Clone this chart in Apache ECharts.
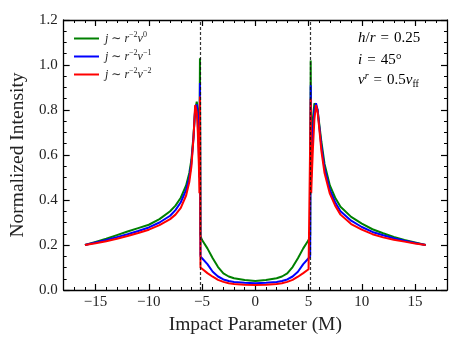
<!DOCTYPE html>
<html lang="en">
<head>
    <meta charset="UTF-8">
    <title>Normalized Intensity vs Impact Parameter</title>
    <script src="https://cdn.jsdelivr.net/npm/echarts@6/dist/echarts.min.js"></script>
    <style>
        html, body { margin: 0; padding: 0; background: #ffffff; }
        #chart { width: 463px; height: 347px; }
    </style>
</head>
<body>
    <div id="chart"></div>
    <script>
        // impact parameter samples (M)
        var impact = [
            -16, -15, -14, -13, -12, -11, -10, -9, -8, -7.5, -7, -6.5, -6.2, -6, -5.8, -5.65,
            -5.5, -5.4, -5.3, -5.25, -5.2, -5.15, -5, -4.5, -4, -3.5, -3, -2.5, -2, -1, 0,
            1, 2, 2.5, 3, 3.5, 4, 4.5, 5, 5.15, 5.2, 5.25, 5.3, 5.4, 5.55, 5.7,
            5.85, 6, 6.2, 6.5, 7, 7.5, 8, 9, 10, 11, 12, 13, 14, 15, 16
        ];

        // j ~ r^-2 nu^0
        var greenVals = [
            0.200, 0.214, 0.228, 0.244, 0.260, 0.275, 0.290, 0.315, 0.350, 0.375, 0.410, 0.465, 0.520, 0.580, 0.690, 0.800,
            0.837, 0.800, 0.650, 0.550, 1.030, 0.240, 0.222, 0.185, 0.141, 0.102, 0.074, 0.060, 0.052, 0.044, 0.040,
            0.044, 0.052, 0.060, 0.074, 0.102, 0.141, 0.185, 0.222, 0.240, 1.020, 0.550, 0.650, 0.760, 0.830, 0.835,
            0.800, 0.740, 0.660, 0.560, 0.465, 0.410, 0.370, 0.325, 0.295, 0.270, 0.252, 0.236, 0.222, 0.211, 0.200
        ];
        // j ~ r^-2 nu^-1
        var blueVals = [
            0.200, 0.211, 0.222, 0.235, 0.248, 0.262, 0.278, 0.300, 0.330, 0.355, 0.390, 0.445, 0.500, 0.565, 0.680, 0.810,
            0.825, 0.770, 0.600, 0.500, 0.920, 0.150, 0.141, 0.115, 0.081, 0.060, 0.047, 0.040, 0.036, 0.032, 0.030,
            0.032, 0.036, 0.040, 0.047, 0.060, 0.081, 0.115, 0.141, 0.150, 0.910, 0.500, 0.580, 0.700, 0.800, 0.830,
            0.800, 0.730, 0.640, 0.540, 0.445, 0.390, 0.350, 0.308, 0.280, 0.258, 0.243, 0.230, 0.219, 0.209, 0.200
        ];
        // j ~ r^-2 nu^-2
        var redVals = [
            0.200, 0.208, 0.217, 0.228, 0.240, 0.253, 0.268, 0.288, 0.315, 0.335, 0.365, 0.420, 0.480, 0.550, 0.680, 0.822,
            0.790, 0.700, 0.550, 0.430, 0.860, 0.100, 0.092, 0.075, 0.059, 0.045, 0.036, 0.030, 0.027, 0.023, 0.022,
            0.023, 0.027, 0.030, 0.036, 0.045, 0.059, 0.075, 0.092, 0.100, 0.850, 0.430, 0.500, 0.620, 0.760, 0.822,
            0.790, 0.720, 0.620, 0.520, 0.428, 0.375, 0.335, 0.293, 0.268, 0.248, 0.234, 0.223, 0.215, 0.207, 0.200
        ];

        var seriesNames = ['nu0', 'nu1', 'nu2'];
        var legendLabels = {
            nu0: '{i|j} ∼ {i|r}{s|−2}{i|ν}{s|0}',
            nu1: '{i|j} ∼ {i|r}{s|−2}{i|ν}{s|−1}',
            nu2: '{i|j} ∼ {i|r}{s|−2}{i|ν}{s|−2}'
        };
        var seriesColors = ['#008000', '#0000ff', '#ff0000'];

        var xMajor = [-15, -10, -5, 0, 5, 10, 15];
        var photonRing = [-5.196, 5.196];

        var serif = '"Liberation Serif", "DejaVu Serif", serif';

        function pairs(vals) {
            return impact.map(function (x, i) { return [x, vals[i]]; });
        }

        var chart = echarts.init(document.getElementById('chart'), null, { renderer: 'canvas' });

        function xAxisDef(pos, major) {
            return {
                type: 'value',
                position: pos,
                min: -18,
                max: 18,
                interval: 1,
                name: (pos === 'bottom' && major) ? 'Impact Parameter (M)' : '',
                nameLocation: 'middle',
                nameGap: 21,
                nameTextStyle: { fontFamily: serif, fontSize: 19.5, color: '#222' },
                axisLine: { show: major, onZero: false, lineStyle: { color: '#000', width: 1.3 } },
                axisTick: major
                    ? { show: true, inside: true, length: 6, customValues: xMajor, lineStyle: { color: '#000', width: 1.2 } }
                    : { show: true, inside: true, length: 3, lineStyle: { color: '#000', width: 1 } },
                axisLabel: (pos === 'bottom' && major)
                    ? {
                        show: true, margin: 5, customValues: xMajor, fontFamily: serif, fontSize: 15, color: '#222',
                        formatter: function (v) { return v < 0 ? '−' + Math.abs(v) : String(v); }
                    }
                    : { show: false },
                splitLine: { show: false }
            };
        }

        function yAxisDef(pos) {
            return {
                type: 'value',
                position: pos,
                min: 0,
                max: 1.2,
                interval: 0.2,
                name: pos === 'left' ? 'Normalized Intensity' : '',
                nameLocation: 'middle',
                nameGap: 29,
                nameTextStyle: { fontFamily: serif, fontSize: 19.5, color: '#222' },
                axisLine: { show: true, onZero: false, lineStyle: { color: '#000', width: 1.3 } },
                axisTick: { show: true, inside: true, length: 6, lineStyle: { color: '#000', width: 1.2 } },
                minorTick: { show: true, splitNumber: 4, length: 3, lineStyle: { color: '#000', width: 1 } },
                axisLabel: pos === 'left'
                    ? { show: true, margin: 6, fontFamily: serif, fontSize: 15, color: '#222', formatter: function (v) { return v.toFixed(1); } }
                    : { show: false },
                splitLine: { show: false },
                minorSplitLine: { show: false }
            };
        }

        var series = [greenVals, blueVals, redVals].map(function (vals, i) {
            var s = {
                name: seriesNames[i],
                type: 'line',
                xAxisIndex: 0,
                yAxisIndex: 0,
                data: pairs(vals),
                showSymbol: false,
                symbol: 'none',
                color: seriesColors[i],
                lineStyle: { color: seriesColors[i], width: 2 },
                z: 2 + i
            };
            if (i === 2) {
                s.markLine = {
                    silent: true,
                    symbol: 'none',
                    label: { show: false },
                    lineStyle: { color: '#111', type: [3, 2], width: 1.2, opacity: 0.85 },
                    data: photonRing.map(function (x) { return { xAxis: x }; })
                };
            }
            return s;
        });

        var rich = {
            i: { fontFamily: serif, fontStyle: 'italic', fontSize: 15, color: '#222', lineHeight: 18 },
            n: { fontFamily: serif, fontSize: 15, color: '#222', lineHeight: 18 },
            s: { fontFamily: serif, fontStyle: 'italic', fontSize: 10, color: '#222', lineHeight: 10, verticalAlign: 'top' },
            b: { fontFamily: serif, fontSize: 10, color: '#222', lineHeight: 10, verticalAlign: 'bottom' }
        };
        var eq = '\u2004=\u2004';

        var option = {
            animation: false,
            backgroundColor: '#ffffff',
            grid: { left: 60, right: 16, top: 20, bottom: 57, containLabel: false },
            xAxis: [xAxisDef('bottom', true), xAxisDef('bottom', false), xAxisDef('top', true), xAxisDef('top', false)],
            yAxis: [yAxisDef('left'), yAxisDef('right')],
            legend: {
                show: true,
                orient: 'vertical',
                left: 69,
                top: 26,
                icon: 'rect',
                itemWidth: 25,
                itemHeight: 2,
                itemGap: 3,
                data: seriesNames,
                formatter: function (name) { return legendLabels[name]; },
                textStyle: {
                    fontFamily: serif,
                    fontSize: 12,
                    color: '#222',
                    lineHeight: 15,
                    padding: [0, 0, 0, 1],
                    rich: {
                        i: { fontFamily: serif, fontStyle: 'italic', fontSize: 12, color: '#222', lineHeight: 15 },
                        s: { fontFamily: serif, fontSize: 8, color: '#222', lineHeight: 9, verticalAlign: 'top' }
                    }
                }
            },
            graphic: [
                {
                    type: 'text', left: 358, top: 31,
                    style: { text: '{i|h}{n|/}{i|r}{n|' + eq + '0.25}', rich: rich }
                },
                {
                    type: 'text', left: 358, top: 53,
                    style: { text: '{i|i}{n|' + eq + '45°}', rich: rich }
                },
                {
                    type: 'text', left: 358, top: 71,
                    style: { text: '{i|v}{s|r}{n|' + eq + '0.5}{i|v}{b|ff}', rich: rich }
                }
            ],
            series: series
        };

        chart.setOption(option);
    </script>
</body>
</html>
